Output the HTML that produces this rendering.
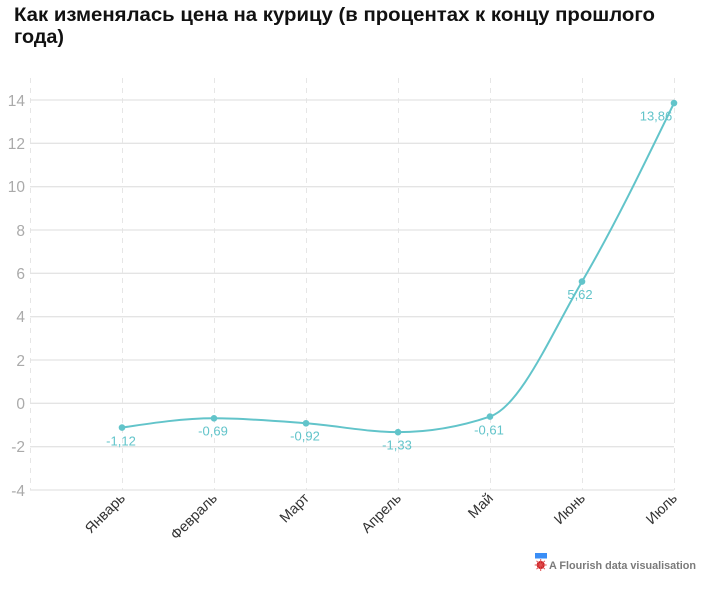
<!DOCTYPE html>
<html><head><meta charset="utf-8">
<style>
html,body{margin:0;padding:0;background:#fff;}
svg{display:block;}
</style></head>
<body>
<svg width="707" height="593" viewBox="0 0 707 593" xmlns="http://www.w3.org/2000/svg">
<rect width="707" height="593" fill="#fff"/>
<g font-family="'Liberation Sans', sans-serif" font-weight="bold" fill="#111" font-size="19">
<text x="14" y="21" textLength="641" lengthAdjust="spacingAndGlyphs">Как изменялась цена на курицу (в процентах к концу прошлого</text>
<text x="14" y="43" textLength="50" lengthAdjust="spacingAndGlyphs">года)</text>
</g>
<!-- vertical dashed grid -->
<g stroke="#e6e6e6" stroke-width="1" stroke-dasharray="5,5">
<line x1="30.5" y1="78" x2="30.5" y2="490"/>
<line x1="122.5" y1="78" x2="122.5" y2="490"/>
<line x1="214.5" y1="78" x2="214.5" y2="490"/>
<line x1="306.5" y1="78" x2="306.5" y2="490"/>
<line x1="398.5" y1="78" x2="398.5" y2="490"/>
<line x1="490.5" y1="78" x2="490.5" y2="490"/>
<line x1="582.5" y1="78" x2="582.5" y2="490"/>
<line x1="674.5" y1="78" x2="674.5" y2="490"/>
</g>
<!-- horizontal grid -->
<g stroke="#e4e4e4" stroke-width="1.3">
<line x1="30" y1="100" x2="674" y2="100"/>
<line x1="30" y1="143.3" x2="674" y2="143.3"/>
<line x1="30" y1="186.7" x2="674" y2="186.7"/>
<line x1="30" y1="230" x2="674" y2="230"/>
<line x1="30" y1="273.3" x2="674" y2="273.3"/>
<line x1="30" y1="316.7" x2="674" y2="316.7"/>
<line x1="30" y1="360" x2="674" y2="360"/>
<line x1="30" y1="403.3" x2="674" y2="403.3"/>
<line x1="30" y1="446.7" x2="674" y2="446.7"/>
<line x1="30" y1="490" x2="674" y2="490"/>
</g>
<!-- y tick labels -->
<g font-family="'Liberation Sans', sans-serif" font-size="15.5" fill="#aaaaaa" text-anchor="end">
<text x="25" y="106">14</text>
<text x="25" y="149">12</text>
<text x="25" y="192">10</text>
<text x="25" y="236">8</text>
<text x="25" y="279">6</text>
<text x="25" y="322">4</text>
<text x="25" y="366">2</text>
<text x="25" y="409">0</text>
<text x="25" y="452">-2</text>
<text x="25" y="496">-4</text>
</g>
<!-- x labels -->
<g font-family="'Liberation Sans', sans-serif" font-size="14.5" fill="#333" text-anchor="end">
<text transform="translate(126,499) rotate(-45)">Январь</text>
<text transform="translate(218,499) rotate(-45)">Февраль</text>
<text transform="translate(310,499) rotate(-45)">Март</text>
<text transform="translate(402,499) rotate(-45)">Апрель</text>
<text transform="translate(494,499) rotate(-45)">Май</text>
<text transform="translate(586,499) rotate(-45)">Июнь</text>
<text transform="translate(678,499) rotate(-45)">Июль</text>
</g>
<!-- series -->
<path d="M122,427.6 C152.67,422.94 183.33,418.28 214,418.28 C244.67,418.28 275.33,420.96 306,423.27 C336.67,425.58 367.33,432.15 398,432.15 C428.67,432.15 459.33,426.95 490,416.55 C520.67,406.15 551.33,333.83 582,281.57 C612.67,229.31 643.33,166.17 674,103.03" fill="none" stroke="#62c4ca" stroke-width="2"/>
<g fill="#62c4ca">
<circle cx="122" cy="427.6" r="3.3"/>
<circle cx="214" cy="418.28" r="3.3"/>
<circle cx="306" cy="423.27" r="3.3"/>
<circle cx="398" cy="432.15" r="3.3"/>
<circle cx="490" cy="416.55" r="3.3"/>
<circle cx="582" cy="281.57" r="3.3"/>
<circle cx="674" cy="103.03" r="3.3"/>
</g>
<g font-family="'Liberation Sans', sans-serif" font-size="13" fill="#62c4ca" text-anchor="middle">
<text x="121" y="445.5">-1,12</text>
<text x="213" y="435.5">-0,69</text>
<text x="305" y="440.5">-0,92</text>
<text x="397" y="449.5">-1,33</text>
<text x="489" y="434.5">-0,61</text>
<text x="580" y="299">5,62</text>
<text x="656" y="120.5">13,86</text>
</g>
<!-- flourish credit -->
<rect x="535" y="553" width="12" height="5.5" fill="#3a8ef6"/>
<g fill="#c9191f">
<circle cx="540.7" cy="565" r="4"/>
<g stroke="#e05050" stroke-width="1">
<line x1="534.7" y1="565" x2="546.7" y2="565"/>
<line x1="540.7" y1="559" x2="540.7" y2="571"/>
<line x1="536.5" y1="560.8" x2="544.9" y2="569.2"/>
<line x1="536.5" y1="569.2" x2="544.9" y2="560.8"/>
</g>
</g>
<text x="549" y="569" font-family="'Liberation Sans', sans-serif" font-weight="bold" font-size="11" fill="#7a7a7a" textLength="147" lengthAdjust="spacingAndGlyphs">A Flourish data visualisation</text>
</svg>
</body></html>
